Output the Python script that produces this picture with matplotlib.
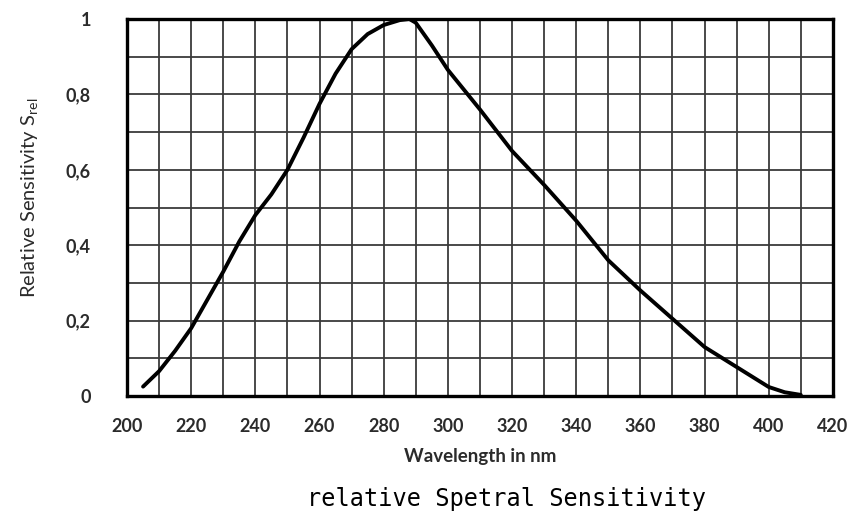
import matplotlib
matplotlib.use("Agg")
import matplotlib.pyplot as plt
from matplotlib.ticker import MultipleLocator, FixedLocator

# relative spectral sensitivity
wavelength = [205, 210, 215, 220, 225, 230, 235, 240, 245, 250, 255, 260,
              265, 270, 275, 280, 285, 288, 290, 295, 300, 310, 320, 330,
              340, 350, 360, 370, 380, 390, 400, 405, 410]
sensitivity = [0.025, 0.066, 0.12, 0.18, 0.255, 0.33, 0.41, 0.48, 0.535,
               0.60, 0.685, 0.775, 0.855, 0.92, 0.96, 0.984, 0.997, 1.0,
               0.99, 0.93, 0.865, 0.76, 0.65, 0.56, 0.465, 0.36, 0.28,
               0.205, 0.13, 0.077, 0.024, 0.01, 0.003]

x_ticks = list(range(200, 421, 20))
y_ticks = [0, 0.2, 0.4, 0.6, 0.8, 1.0]
y_tick_labels = ["0", "0,2", "0,4", "0,6", "0,8", "1"]

label_font = ["Lato", "DejaVu Sans"]
tick_color = "#2b2b2b"

fig = plt.figure(figsize=(8.56, 5.13), dpi=100)
ax = fig.add_axes([0.1484, 0.228, 0.8246, 0.735])

ax.plot(wavelength, sensitivity, color="black", lw=2.8,
        solid_capstyle="round", solid_joinstyle="round", zorder=3)

ax.set_xlim(200, 420)
ax.set_ylim(0, 1)
ax.xaxis.set_major_locator(FixedLocator(x_ticks))
ax.xaxis.set_minor_locator(MultipleLocator(10))
ax.yaxis.set_major_locator(FixedLocator(y_ticks))
ax.yaxis.set_minor_locator(MultipleLocator(0.1))
ax.set_yticklabels(y_tick_labels)

ax.grid(True, which="both", color="#3a3a3a", lw=1.3, zorder=1)
ax.set_axisbelow(True)
ax.tick_params(which="both", length=0)
ax.tick_params(axis="x", pad=16)
ax.tick_params(axis="y", pad=26)
for lab in ax.get_xticklabels() + ax.get_yticklabels():
    lab.set_fontfamily(label_font)
    lab.set_fontsize(13)
    lab.set_fontweight("bold")
    lab.set_color(tick_color)

for sp in ax.spines.values():
    sp.set_linewidth(2.4)
    sp.set_color("black")
    sp.set_zorder(4)

ax.set_xlabel("Wavelength in nm", fontsize=13.5, fontweight="bold",
              color=tick_color, family=label_font, labelpad=9)
fig.text(0.036, 0.615, r"Relative Sensitivity S$_{\mathregular{rel}}$",
         rotation=90, ha="center", va="center", fontsize=14.5,
         color=tick_color, family=label_font)

fig.text(0.592, 0.028, "relative Spetral Sensitivity", ha="center",
         va="center", fontsize=17, color="black",
         family=["DejaVu Sans Mono"])

fig.savefig("out.png", dpi=100)
